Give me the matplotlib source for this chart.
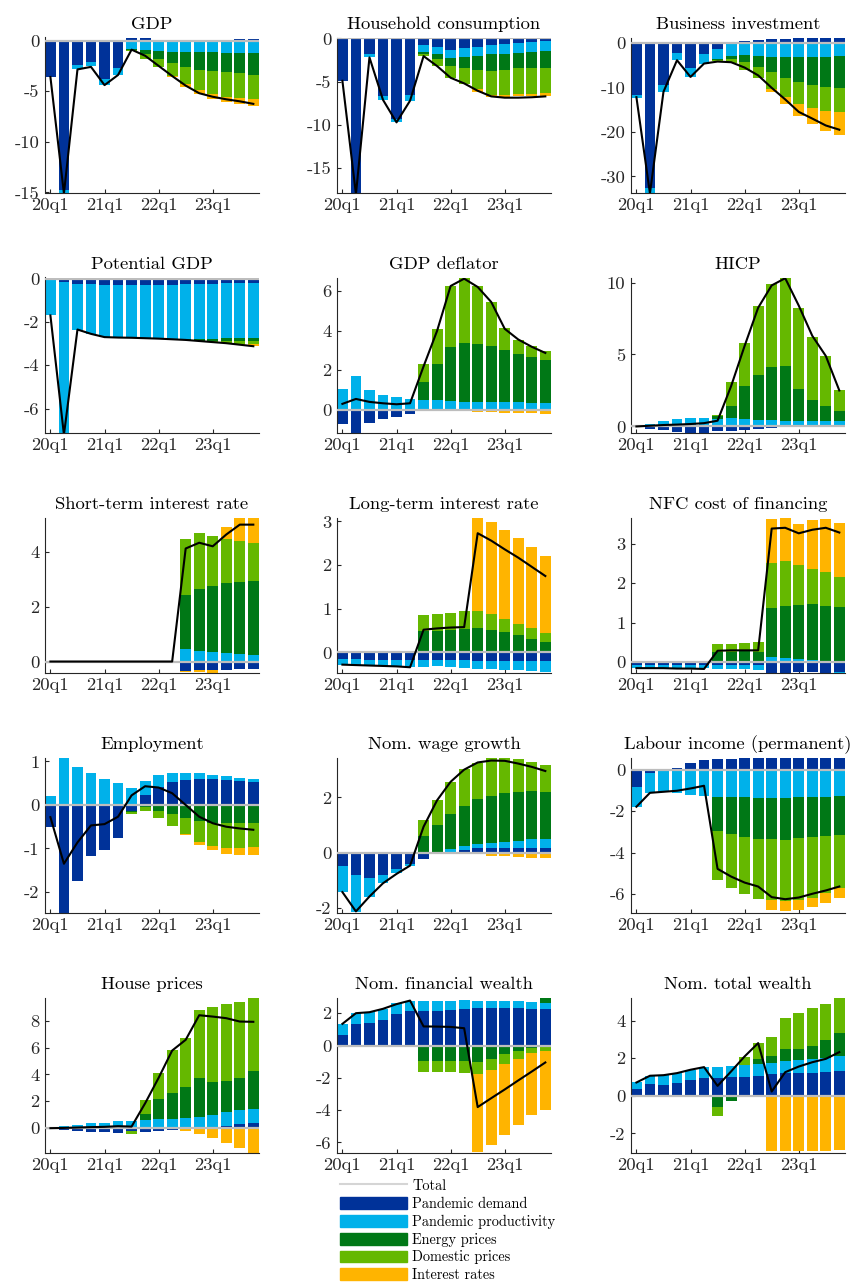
import numpy as np
import matplotlib.pyplot as plt
from matplotlib.lines import Line2D
from matplotlib.patches import Patch

plt.rcParams['font.family'] = 'serif'
plt.rcParams['font.serif'] = ['cmr10']
plt.rcParams['mathtext.fontset'] = 'cm'
plt.rcParams['axes.unicode_minus'] = False
plt.rcParams['axes.formatter.use_mathtext'] = True

# quarters 20q1 .. 23q4
quarters = [f'{y}q{q}' for y in range(20, 24) for q in range(1, 5)]
xtick_labels = ['20q1', '21q1', '22q1', '23q1']

shock_names = ['Pandemic demand', 'Pandemic productivity', 'Energy prices',
               'Domestic prices', 'Interest rates']
shock_colors = ['#003299', '#00B1EA', '#007816', '#65B800', '#FFB400']

z6 = [0] * 6
z10 = [0] * 10

# each panel: [pandemic demand, pandemic productivity, energy, domestic, interest rates]
gdp = [
    [-3.6, -14.8, -2.45, -2.1, -3.8, -2.7, 0.25, 0.3, 0.05, 0.0, 0.0, 0.02, 0.05, 0.1, 0.15, 0.2],
    [0, -0.3, -0.4, -0.45, -0.6, -0.7, -0.85, -0.9, -1.0, -1.1, -1.1, -1.15, -1.15, -1.2, -1.2, -1.2],
    z6 + [-0.1, -0.4, -0.85, -1.15, -1.55, -1.8, -1.85, -1.9, -2.0, -2.2],
    z6 + [-0.1, -0.55, -0.75, -1.25, -1.6, -1.95, -2.3, -2.45, -2.45, -2.35],
    [0] * 9 + [-0.05, -0.3, -0.4, -0.45, -0.5, -0.6, -0.75],
]
gdp_total = [-3.6, -15.1, -2.85, -2.6, -4.4, -3.4, -0.9, -1.5, -2.5, -3.5, -4.45, -5.2, -5.55, -5.8, -6.0, -6.25]

cons = [
    [-4.9, -18.0, -1.85, -6.65, -9.3, -6.55, -0.8, -0.95, -1.35, -1.15, -0.95, -0.75, -0.7, -0.5, -0.4, -0.3],
    [0, 0, -0.35, -0.45, -0.4, -0.65, -0.75, -0.85, -0.9, -1.05, -1.1, -1.1, -1.05, -1.15, -1.15, -1.15],
    z6 + [-0.2, -0.6, -0.95, -1.25, -1.6, -1.9, -1.85, -1.8, -1.9, -1.95],
    z6 + [-0.3, -0.8, -1.35, -1.8, -2.25, -2.8, -2.95, -3.0, -2.95, -2.9],
    z10 + [-0.25, -0.2, -0.25, -0.25, -0.3, -0.4],
]
cons_total = [-4.9, -18.0, -2.2, -7.1, -9.7, -7.2, -2.05, -3.2, -4.55, -5.2, -6.05, -6.7, -6.85, -6.85, -6.8, -6.7]

binv = [
    [-11.7, -32.6, -9.5, -2.2, -5.7, -2.55, -1.4, -0.1, 0.4, 0.7, 0.85, 0.95, 1.0, 1.05, 1.1, 1.15],
    [-0.6, -1.2, -1.5, -1.7, -1.95, -2.1, -2.25, -2.8, -2.8, -2.9, -3.1, -3.15, -3.25, -3.25, -3.1, -2.95],
    z6 + [-0.2, -0.7, -1.5, -2.6, -3.45, -4.65, -5.5, -6.15, -6.75, -7.2],
    z6 + [-0.3, -1.0, -1.8, -2.4, -3.75, -4.3, -4.9, -5.2, -5.35, -5.4],
    [0] * 9 + [-0.1, -0.75, -1.7, -2.7, -3.6, -4.5, -5.1],
]
binv_total = [-12.2, -33.8, -11.0, -3.9, -7.65, -4.65, -4.2, -4.35, -5.55, -7.3, -10.1, -12.7, -15.5, -17.0, -18.55, -19.5]

potgdp = [
    [0, -0.15, -0.25, -0.25, -0.28, -0.28, -0.28, -0.28, -0.28, -0.28, -0.26, -0.25, -0.23, -0.22, -0.2, -0.2],
    [-1.7, -7.05, -2.1, -2.3, -2.42, -2.44, -2.45, -2.47, -2.49, -2.52, -2.54, -2.55, -2.55, -2.54, -2.54, -2.54],
    z10 + [-0.03, -0.06, -0.1, -0.12, -0.14, -0.15],
    [0] * 11 + [-0.02, -0.05, -0.08, -0.12, -0.15],
    [0] * 13 + [-0.02, -0.05, -0.08],
]
potgdp_total = [-1.7, -7.2, -2.35, -2.55, -2.7, -2.72, -2.73, -2.75, -2.77, -2.8, -2.83, -2.88, -2.93, -2.98, -3.05, -3.12]

defl = [
    [-0.7, -1.3, -0.65, -0.45, -0.35, -0.2, -0.03, -0.03, -0.05, -0.05, -0.06, -0.07, -0.07, -0.07, -0.07, -0.07],
    [1.05, 1.73, 1.02, 0.76, 0.63, 0.55, 0.48, 0.48, 0.44, 0.42, 0.41, 0.39, 0.37, 0.37, 0.34, 0.34],
    z6 + [0.92, 1.86, 2.74, 2.97, 2.93, 2.86, 2.64, 2.46, 2.32, 2.17],
    z6 + [0.9, 1.76, 3.08, 3.27, 2.92, 2.22, 1.14, 0.73, 0.56, 0.49],
    z10 + [-0.03, -0.06, -0.08, -0.1, -0.11, -0.12],
]
defl_total = [0.3, 0.55, 0.4, 0.33, 0.28, 0.33, 2.2, 4.0, 6.27, 6.64, 6.22, 5.46, 4.1, 3.56, 3.19, 2.88]

hicp = [
    [0, -0.15, -0.28, -0.4, -0.45, -0.45, -0.35, -0.35, -0.28, -0.19, -0.12, -0.05, -0.02, 0, 0, 0],
    [0.02, 0.18, 0.35, 0.5, 0.62, 0.62, 0.53, 0.58, 0.51, 0.47, 0.44, 0.4, 0.37, 0.37, 0.35, 0.35],
    z6 + [0.2, 0.86, 2.28, 3.09, 3.67, 3.77, 2.26, 1.49, 1.1, 0.74],
    z6 + [0.05, 1.63, 2.98, 4.81, 5.77, 6.14, 5.63, 4.37, 3.44, 1.47],
    [0] * 12 + [-0.03, -0.05, -0.05, -0.06],
]
hicp_total = [0, 0.05, 0.1, 0.13, 0.17, 0.23, 0.4, 2.8, 5.6, 8.25, 9.8, 10.3, 8.4, 6.3, 4.9, 2.5]

strate = [
    z10 + [-0.33, -0.3, -0.3, -0.3, -0.28, -0.28],
    z10 + [0.45, 0.4, 0.35, 0.3, 0.28, 0.24],
    z10 + [1.96, 2.24, 2.41, 2.55, 2.63, 2.68],
    z10 + [2.04, 2.05, 1.8, 1.63, 1.5, 1.39],
    z10 + [-0.04, -0.08, -0.12, 0.41, 0.83, 0.91],
]
strate_total = z10 + [4.12, 4.33, 4.2, 4.63, 4.99, 4.99]

ltrate = [
    [-0.16, -0.16, -0.17, -0.17, -0.17, -0.17, -0.17, -0.18, -0.18, -0.18, -0.2, -0.2, -0.2, -0.2, -0.2, -0.2],
    [-0.12, -0.13, -0.14, -0.15, -0.15, -0.17, -0.17, -0.13, -0.15, -0.17, -0.18, -0.19, -0.2, -0.21, -0.23, -0.25],
    z6 + [0.48, 0.5, 0.51, 0.53, 0.55, 0.51, 0.46, 0.39, 0.31, 0.25],
    z6 + [0.37, 0.38, 0.4, 0.41, 0.41, 0.38, 0.31, 0.27, 0.24, 0.2],
    z10 + [2.13, 2.09, 2.03, 1.96, 1.86, 1.75],
]
ltrate_total = [-0.28, -0.29, -0.3, -0.31, -0.32, -0.34, 0.52, 0.55, 0.57, 0.58, 2.73, 2.56, 2.36, 2.17, 1.96, 1.75]

nfc = [
    [-0.07] * 6 + [-0.08, -0.08, -0.08, -0.08, -0.26, -0.26, -0.25, -0.25, -0.26, -0.24],
    [-0.08] * 6 + [-0.08, -0.09, -0.1, -0.12, 0.13, 0.1, 0.08, 0.05, 0.02, -0.02],
    z6 + [0.25, 0.27, 0.29, 0.27, 1.23, 1.31, 1.36, 1.41, 1.41, 1.39],
    z6 + [0.2, 0.19, 0.19, 0.23, 1.16, 1.16, 1.02, 0.91, 0.84, 0.76],
    z10 + [1.1, 1.07, 1.03, 1.22, 1.35, 1.36],
]
nfc_total = [-0.15, -0.15, -0.15, -0.16, -0.16, -0.17, 0.29, 0.3, 0.3, 0.3, 3.38, 3.4, 3.26, 3.35, 3.4, 3.28]

empl = [
    [-0.5, -2.5, -1.74, -1.18, -1.03, -0.75, -0.15, 0.23, 0.42, 0.53, 0.57, 0.59, 0.59, 0.57, 0.55, 0.52],
    [0.21, 1.12, 0.88, 0.73, 0.6, 0.5, 0.4, 0.33, 0.27, 0.21, 0.17, 0.14, 0.1, 0.09, 0.08, 0.07],
    z6 + [-0.02, -0.04, -0.13, -0.21, -0.31, -0.37, -0.42, -0.42, -0.42, -0.42],
    z6 + [-0.04, -0.09, -0.16, -0.27, -0.36, -0.48, -0.52, -0.57, -0.57, -0.55],
    z10 + [-0.03, -0.07, -0.09, -0.13, -0.15, -0.18],
]
empl_total = [-0.28, -1.35, -0.86, -0.47, -0.44, -0.27, 0.22, 0.43, 0.4, 0.27, 0.0, -0.27, -0.42, -0.5, -0.54, -0.57]

wage = [
    [-0.5, -0.8, -0.93, -0.8, -0.6, -0.41, -0.24, -0.06, 0.03, 0.1, 0.16, 0.18, 0.18, 0.18, 0.18, 0.18],
    [-0.94, -1.35, -0.69, -0.3, -0.15, -0.06, 0, 0.02, 0.1, 0.14, 0.14, 0.17, 0.2, 0.25, 0.3, 0.31],
    z6 + [0.6, 0.98, 1.27, 1.46, 1.63, 1.72, 1.78, 1.77, 1.75, 1.71],
    z6 + [0.58, 0.9, 1.17, 1.33, 1.33, 1.37, 1.28, 1.18, 1.06, 0.96],
    [0] * 9 + [-0.02, -0.06, -0.11, -0.13, -0.17, -0.18, -0.2],
]
wage_total = [-1.43, -2.13, -1.59, -1.11, -0.77, -0.47, 0.94, 1.9, 2.57, 3.01, 3.27, 3.34, 3.33, 3.23, 3.11, 2.96]

labinc = [
    [-0.83, -0.16, 0, 0.08, 0.32, 0.48, 0.51, 0.53, 0.54, 0.55, 0.56, 0.56, 0.56, 0.56, 0.55, 0.55],
    [-0.96, -0.96, -1.07, -1.12, -1.23, -1.28, -1.31, -1.33, -1.34, -1.36, -1.36, -1.36, -1.34, -1.33, -1.3, -1.26],
    z6 + [-1.65, -1.78, -1.9, -1.97, -2.0, -2.03, -1.97, -1.94, -1.9, -1.89],
    z6 + [-2.35, -2.58, -2.74, -2.88, -2.94, -2.96, -2.96, -2.9, -2.75, -2.56],
    z10 + [-0.45, -0.48, -0.48, -0.43, -0.45, -0.48],
]
labinc_total = [-1.79, -1.12, -1.07, -1.02, -0.91, -0.78, -4.78, -5.15, -5.44, -5.63, -6.14, -6.24, -6.16, -5.98, -5.82, -5.63]

house = [
    [0, -0.1, -0.2, -0.27, -0.32, -0.35, -0.2, -0.25, -0.22, -0.1, 0.02, 0.04, 0.12, 0.2, 0.3, 0.37],
    [0, 0.15, 0.25, 0.35, 0.42, 0.5, 0.57, 0.62, 0.67, 0.69, 0.77, 0.82, 0.87, 0.97, 1.02, 1.09],
    [0] * 7 + [0.47, 1.49, 1.96, 2.28, 2.85, 2.48, 2.31, 2.38, 2.83],
    z6 + [-0.25, 1.02, 1.94, 3.18, 3.65, 5.09, 5.58, 5.78, 5.68, 5.43],
    z10 + [-0.2, -0.42, -0.74, -1.07, -1.44, -1.85],
]
house_total = [0, 0.02, 0.05, 0.08, 0.1, 0.15, 0.12, 1.85, 3.75, 5.78, 6.58, 8.41, 8.31, 8.19, 7.94, 7.92]

finw = [
    [0.66, 1.32, 1.38, 1.59, 1.94, 2.16, 2.16, 2.16, 2.2, 2.25, 2.29, 2.29, 2.29, 2.29, 2.25, 2.25],
    [0.66, 0.68, 0.68, 0.68, 0.66, 0.62, 0.62, 0.62, 0.58, 0.54, 0.49, 0.49, 0.49, 0.49, 0.47, 0.41],
    z6 + [-0.95, -0.95, -0.95, -0.95, -0.99, -0.82, -0.52, -0.31, -0.16, 0.31],
    z6 + [-0.66, -0.66, -0.7, -0.76, -0.78, -0.68, -0.64, -0.52, -0.31, -0.33],
    z10 + [-4.82, -4.64, -4.35, -4.1, -3.85, -3.65],
]
finw_total = [1.34, 2.0, 2.06, 2.27, 2.56, 2.78, 1.18, 1.17, 1.15, 1.07, -3.81, -3.26, -2.72, -2.16, -1.61, -1.05]

totw = [
    [0.36, 0.62, 0.6, 0.67, 0.82, 0.94, 0.94, 0.98, 1.03, 1.08, 1.15, 1.21, 1.24, 1.24, 1.28, 1.3],
    [0.37, 0.44, 0.5, 0.53, 0.57, 0.59, 0.59, 0.62, 0.6, 0.62, 0.59, 0.62, 0.67, 0.71, 0.73, 0.8],
    z6 + [-0.57, -0.3, 0, 0.25, 0.36, 0.66, 0.6, 0.71, 0.94, 1.23],
    z6 + [-0.48, 0, 0.43, 0.85, 1.03, 1.65, 1.92, 2.0, 1.95, 1.88],
    z10 + [-2.93, -2.93, -2.95, -2.93, -2.93, -2.9],
]
totw_total = [0.71, 1.07, 1.1, 1.21, 1.39, 1.53, 0.53, 1.3, 2.1, 2.81, 0.23, 1.26, 1.56, 1.79, 1.97, 2.33]

titles = ['GDP', 'Household consumption', 'Business investment',
          'Potential GDP', 'GDP deflator', 'HICP',
          'Short-term interest rate', 'Long-term interest rate', 'NFC cost of financing',
          'Employment', 'Nom. wage growth', 'Labour income (permanent)',
          'House prices', 'Nom. financial wealth', 'Nom. total wealth']
contribs = [gdp, cons, binv, potgdp, defl, hicp, strate, ltrate, nfc,
            empl, wage, labinc, house, finw, totw]
totals = [gdp_total, cons_total, binv_total, potgdp_total, defl_total, hicp_total,
          strate_total, ltrate_total, nfc_total, empl_total, wage_total, labinc_total,
          house_total, finw_total, totw_total]
ylims = [(-15, 0.3), (-17.8, 0.1), (-33.6, 1.2), (-7.1, 0.05), (-1.15, 6.7),
         (-0.42, 10.35), (-0.4, 5.25), (-0.46, 3.09), (-0.26, 3.66), (-2.47, 1.09),
         (-2.17, 3.45), (-6.88, 0.58), (-1.81, 9.73), (-6.62, 2.97), (-3.02, 5.24)]
yticks = [[-15, -10, -5, 0], [-15, -10, -5, 0], [-30, -20, -10, 0], [-6, -4, -2, 0],
          [0, 2, 4, 6], [0, 5, 10], [0, 2, 4], [0, 1, 2, 3], [0, 1, 2, 3],
          [-2, -1, 0, 1], [-2, 0, 2], [-6, -4, -2, 0], [0, 2, 4, 6, 8],
          [-6, -4, -2, 0, 2], [-2, 0, 2, 4]]

W, H = 852, 1284
fig = plt.figure(figsize=(W / 100, H / 100), dpi=100)
col_left = [45, 337, 631]
row_top = [37.5, 277.5, 517.5, 757.5, 997.5]
ax_w, ax_h = 214, 155
txt = '#262626'
x = np.arange(len(quarters))

for i, title in enumerate(titles):
    r, c = divmod(i, 3)
    ax = fig.add_axes([col_left[c] / W, 1 - (row_top[r] + ax_h) / H, ax_w / W, ax_h / H])
    pos_base = np.zeros(len(x))
    neg_base = np.zeros(len(x))
    for vals, color in zip(contribs[i], shock_colors):
        v = np.array(vals, dtype=float)
        pos = np.where(v > 0, v, 0)
        neg = np.where(v < 0, v, 0)
        ax.bar(x, pos, bottom=pos_base, width=0.8, color=color, linewidth=0, zorder=2)
        ax.bar(x, neg, bottom=neg_base, width=0.8, color=color, linewidth=0, zorder=2)
        pos_base += pos
        neg_base += neg
    ax.axhline(0, color='#BDBDBD', lw=1.6, zorder=3)
    ax.plot(x, totals[i], color='black', lw=1.5, zorder=4)

    ax.set_xlim(-0.4, 15.42)
    ax.set_ylim(*ylims[i])
    ax.set_xticks([0, 4, 8, 12])
    ax.set_xticklabels(xtick_labels)
    ax.set_yticks(yticks[i])
    ax.set_yticklabels(['%g' % t for t in yticks[i]])
    ax.set_title(title, fontsize=13.4, pad=6, color='black')
    for s in ['top', 'right']:
        ax.spines[s].set_visible(False)
    for s in ['left', 'bottom']:
        ax.spines[s].set_color(txt)
        ax.spines[s].set_linewidth(0.8)
    ax.tick_params(direction='in', length=3, width=0.8, colors=txt,
                   labelsize=13.4, pad=4)

handles = [Line2D([], [], color='#D5D5D5', lw=1.5)]
handles += [Patch(color=col) for col in shock_colors]
fig.legend(handles, ['Total'] + shock_names, loc='upper left',
           bbox_to_anchor=(340 / W, 1 - 1179 / H), frameon=False, fontsize=10.3,
           handlelength=4.7, handleheight=0.9, handletextpad=0.35,
           labelspacing=0.27, borderpad=0, borderaxespad=0)

fig.savefig('out.png', dpi=100)
